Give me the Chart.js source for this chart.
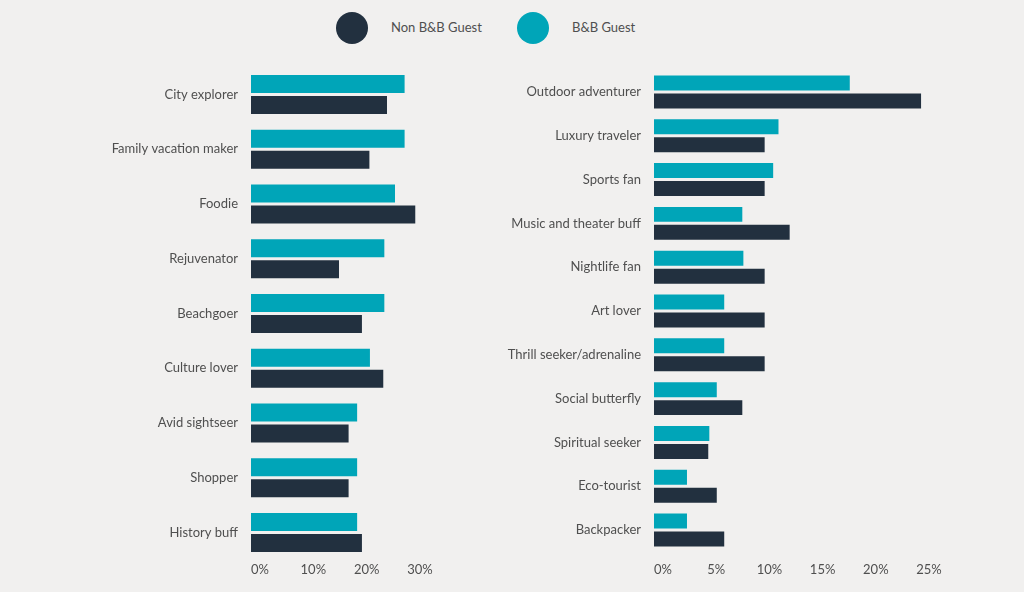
<!DOCTYPE html>
<html>
<head>
<meta charset="utf-8">
<script src="https://cdn.jsdelivr.net/npm/chart.js@4/dist/chart.umd.min.js"></script>
<style>
  body { margin: 0; background: #f1f0ef; width: 1024px; height: 592px; overflow: hidden; position: relative; font-family: Lato, sans-serif; }
  #left { position: absolute; left: 0; top: 0; }
  #right { position: absolute; left: 470px; top: 0; }
  .dot { position: absolute; width: 32px; height: 32px; border-radius: 50%; }
  .lab { position: absolute; font-size: 13px; color: #4f4f4f; line-height: 16px; }
</style>
</head>
<body>
<div class="dot" style="left:336px;top:12px;background:#22303f"></div>
<div class="lab" style="left:391px;top:19px">Non B&amp;B Guest</div>
<div class="dot" style="left:517px;top:12px;background:#00a5b8"></div>
<div class="lab" style="left:572px;top:19px">B&amp;B Guest</div>

<canvas id="left" width="470" height="592"></canvas>
<canvas id="right" width="554" height="592"></canvas>

<script>
// --- data ---
var leftCategories = ['City explorer', 'Family vacation maker', 'Foodie', 'Rejuvenator', 'Beachgoer',
  'Culture lover', 'Avid sightseer', 'Shopper', 'History buff'];
var leftBnb    = [28.8, 28.8, 27.0, 25.0, 25.0, 22.3, 19.9, 19.9, 19.9];
var leftNonBnb = [25.5, 22.2, 30.8, 16.5, 20.8, 24.8, 18.3, 18.3, 20.8];
var leftTicks  = [0, 10, 20, 30];

var rightCategories = ['Outdoor adventurer', 'Luxury traveler', 'Sports fan', 'Music and theater buff',
  'Nightlife fan', 'Art lover', 'Thrill seeker/adrenaline', 'Social butterfly', 'Spiritual seeker',
  'Eco-tourist', 'Backpacker'];
var rightBnb    = [18.4, 11.7, 11.2, 8.3, 8.4, 6.6, 6.6, 5.9, 5.2, 3.1, 3.1];
var rightNonBnb = [25.1, 10.4, 10.4, 12.75, 10.4, 10.4, 10.4, 8.3, 5.1, 5.9, 6.6];
var rightTicks  = [0, 5, 10, 15, 20, 25];

var tealColor = '#00a5b8';
var navyColor = '#22303f';
var textColor = '#4f4f4f';

Chart.defaults.font.family = 'Lato, sans-serif';
Chart.defaults.font.size = 13;
Chart.defaults.color = textColor;

// draws the x tick labels, shifted a bit to the right like the original
var tickLabels = {
  id: 'tickLabels',
  afterDraw: function(chart, args, opts) {
    var ctx = chart.ctx;
    var xs = chart.scales.x;
    ctx.save();
    ctx.font = '13px Lato, sans-serif';
    ctx.fillStyle = textColor;
    ctx.textAlign = 'center';
    ctx.textBaseline = 'middle';
    opts.values.forEach(function(v) {
      ctx.fillText(v + '%', xs.getPixelForValue(v) + opts.shift, opts.y);
    });
    ctx.restore();
  }
};

function makeChart(id, cats, bnb, nonBnb, ticks, cfg) {
  var ctx = document.getElementById(id).getContext('2d');
  return new Chart(ctx, {
    type: 'bar',
    data: {
      labels: cats,
      datasets: [
        { label: 'B&B Guest', data: bnb, backgroundColor: tealColor, clip: false,
          barPercentage: cfg.barPct, categoryPercentage: cfg.catPct },
        { label: 'Non B&B Guest', data: nonBnb, backgroundColor: navyColor, clip: false,
          barPercentage: cfg.barPct, categoryPercentage: cfg.catPct }
      ]
    },
    options: {
      indexAxis: 'y',
      responsive: false,
      animation: false,
      layout: { padding: { left: 0, right: cfg.padRight, top: cfg.padTop, bottom: 0 } },
      plugins: {
        legend: { display: false },
        tooltip: { enabled: false },
        tickLabels: { values: ticks, shift: 9, y: 570 }
      },
      scales: {
        x: {
          min: 0,
          max: ticks[ticks.length - 1],
          ticks: { display: false, stepSize: ticks[1] - ticks[0] },
          grid: { display: false, drawTicks: false },
          border: { display: false },
          afterFit: function(scale) { scale.height = cfg.xHeight; }
        },
        y: {
          ticks: { padding: 13, color: textColor, font: { size: 13 } },
          grid: { display: false, drawTicks: false },
          border: { display: false },
          afterFit: function(scale) { scale.width = cfg.axisLeft; }
        }
      }
    },
    plugins: [tickLabels]
  });
}

makeChart('left', leftCategories, leftBnb, leftNonBnb, leftTicks,
  { barPct: 0.857, catPct: 0.767, padRight: 59, padTop: 67, xHeight: 32, axisLeft: 251 });
makeChart('right', rightCategories, rightBnb, rightNonBnb, rightTicks,
  { barPct: 0.833, catPct: 0.821, padRight: 104, padTop: 70, xHeight: 40, axisLeft: 184 });
</script>
</body>
</html>
